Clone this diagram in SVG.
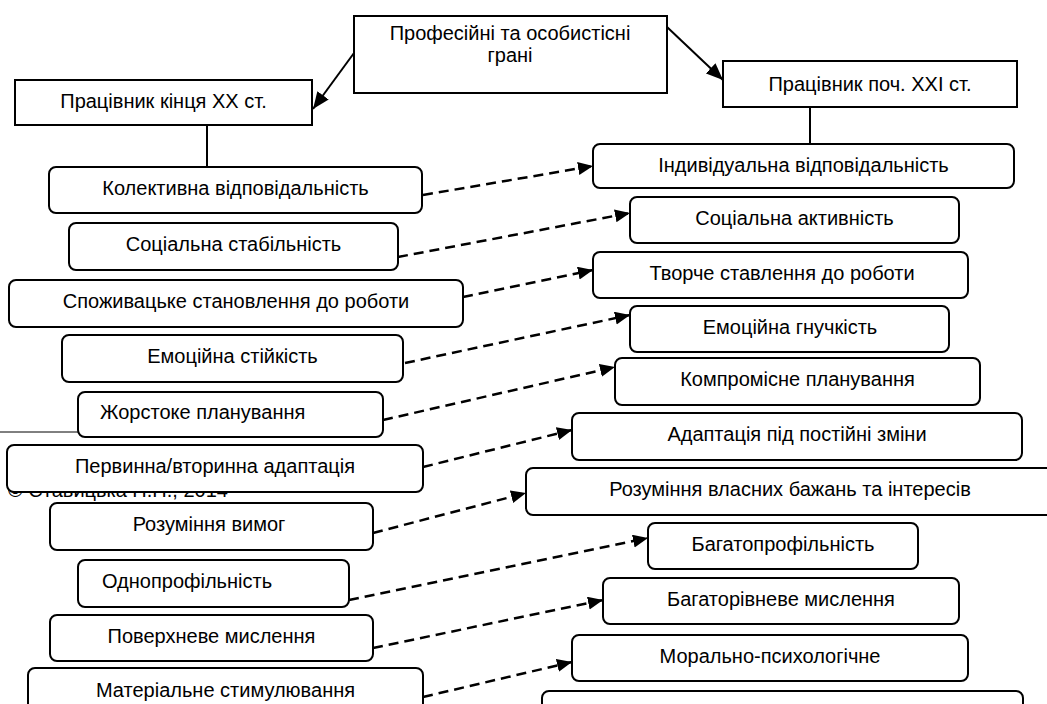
<svg xmlns="http://www.w3.org/2000/svg" width="1047" height="704" viewBox="0 0 1047 704">
<style>
.bx{fill:#fff;stroke:#000;stroke-width:2}
.t{font-family:"Liberation Sans",Arial,sans-serif;font-size:20px;fill:#000;text-anchor:middle}
.tl{font-family:"Liberation Sans",Arial,sans-serif;font-size:20px;fill:#000}
.sl{fill:none;stroke:#000;stroke-width:2}
.dl{fill:none;stroke:#000;stroke-width:2.5;stroke-dasharray:10,6}
</style>
<defs>
<marker id="ah" markerUnits="userSpaceOnUse" markerWidth="16" markerHeight="14" refX="15" refY="6.5" orient="auto">
<path d="M0,0 L15,6.5 L0,13 z" fill="#000" stroke="none"/>
</marker>
<marker id="ahs" markerUnits="userSpaceOnUse" markerWidth="18" markerHeight="15" refX="17" refY="7" orient="auto">
<path d="M0,0 L17,7 L0,14 z" fill="#000" stroke="none"/>
</marker>
</defs>
<rect width="1047" height="704" fill="#fff"/>
<text class="tl" x="8" y="497">© Ставицька Н.Н., 2014</text>
<line x1="0" y1="432" x2="80" y2="432" stroke="#000" stroke-width="1"/>
<g id="connectors">
<line class="sl" x1="354" y1="53" x2="313" y2="109" marker-end="url(#ahs)"/>
<line class="sl" x1="667" y1="27" x2="723" y2="80" marker-end="url(#ahs)"/>
<line class="sl" x1="207" y1="125" x2="207" y2="167"/>
<line class="sl" x1="810" y1="107" x2="810" y2="144"/>
<line class="dl" x1="423" y1="195" x2="593" y2="166" marker-end="url(#ah)"/>
<line class="dl" x1="398" y1="257" x2="630" y2="213" marker-end="url(#ah)"/>
<line class="dl" x1="463" y1="297" x2="593" y2="270" marker-end="url(#ah)"/>
<line class="dl" x1="405" y1="363" x2="630" y2="315" marker-end="url(#ah)"/>
<line class="dl" x1="383" y1="420" x2="615" y2="367" marker-end="url(#ah)"/>
<line class="dl" x1="423" y1="467" x2="572" y2="430" marker-end="url(#ah)"/>
<line class="dl" x1="373" y1="533" x2="526" y2="493" marker-end="url(#ah)"/>
<line class="dl" x1="349" y1="600" x2="648" y2="538" marker-end="url(#ah)"/>
<line class="dl" x1="373" y1="648" x2="603" y2="600" marker-end="url(#ah)"/>
<line class="dl" x1="423" y1="697" x2="572" y2="662" marker-end="url(#ah)"/>
</g>
<g id="n-top"><rect class="bx" x="354" y="16" width="313" height="77"/><text class="t" x="510" y="40">Професійні та особистісні</text><text class="t" x="510" y="62">грані</text></g>
<g id="n-left-head"><rect class="bx" x="15" y="80" width="297" height="45"/><text class="t" x="163.5" y="108">Працівник кінця XX ст.</text></g>
<g id="n-right-head"><rect class="bx" x="723" y="61" width="294" height="46"/><text class="t" x="870" y="91">Працівник поч. XXI ст.</text></g>
<g id="l1"><rect class="bx" x="49" y="167" width="373" height="46" rx="7"/><text class="t" x="235.5" y="195">Колективна відповідальність</text></g>
<g id="l2"><rect class="bx" x="69" y="223" width="329" height="47" rx="7"/><text class="t" x="233.5" y="251">Соціальна стабільність</text></g>
<g id="l3"><rect class="bx" x="9" y="280" width="454" height="47" rx="7"/><text class="t" x="236" y="308">Споживацьке становлення до роботи</text></g>
<g id="l4"><rect class="bx" x="62" y="335" width="341" height="47" rx="7"/><text class="t" x="232.5" y="363">Емоційна стійкість</text></g>
<g id="l5"><rect class="bx" x="78" y="392" width="305" height="45" rx="7"/><text class="tl" x="100" y="419">Жорстоке планування</text></g>
<g id="l6"><rect class="bx" x="7" y="445" width="416" height="47" rx="7"/><text class="t" x="215" y="473">Первинна/вторинна адаптація</text></g>
<g id="l7"><rect class="bx" x="50" y="503" width="323" height="47" rx="7"/><text class="t" x="209" y="531">Розуміння вимог</text></g>
<g id="l8"><rect class="bx" x="78" y="560" width="271" height="47" rx="7"/><text class="tl" x="102" y="588">Однопрофільність</text></g>
<g id="l9"><rect class="bx" x="50" y="615" width="323" height="46" rx="7"/><text class="t" x="211.5" y="643">Поверхневе мислення</text></g>
<g id="l10"><rect class="bx" x="28" y="668" width="395" height="50" rx="7"/><text class="t" x="225.5" y="697">Матеріальне стимулювання</text></g>
<g id="r1"><rect class="bx" x="593" y="144" width="421" height="44" rx="7"/><text class="t" x="803.5" y="172">Індивідуальна відповідальність</text></g>
<g id="r2"><rect class="bx" x="630" y="197" width="329" height="46" rx="7"/><text class="t" x="794.5" y="225">Соціальна активність</text></g>
<g id="r3"><rect class="bx" x="593" y="252" width="375" height="46" rx="7"/><text class="t" x="782" y="280">Творче ставлення до роботи</text></g>
<g id="r4"><rect class="bx" x="630" y="306" width="319" height="46" rx="7"/><text class="t" x="790" y="334">Емоційна гнучкість</text></g>
<g id="r5"><rect class="bx" x="615" y="358" width="365" height="47" rx="7"/><text class="t" x="797.5" y="386">Компромісне планування</text></g>
<g id="r6"><rect class="bx" x="572" y="413" width="450" height="47" rx="7"/><text class="t" x="797" y="441">Адаптація під постійні зміни</text></g>
<g id="r7"><rect class="bx" x="526" y="468" width="540" height="47" rx="7"/><text class="t" x="790" y="496">Розуміння власних бажань та інтересів</text></g>
<g id="r8"><rect class="bx" x="648" y="523" width="270" height="46" rx="7"/><text class="t" x="783" y="551">Багатопрофільність</text></g>
<g id="r9"><rect class="bx" x="603" y="578" width="356" height="46" rx="7"/><text class="t" x="781" y="606">Багаторівневе мислення</text></g>
<g id="r10"><rect class="bx" x="572" y="635" width="396" height="46" rx="7"/><text class="t" x="770" y="663">Морально-психологічне</text></g>
<g id="r11"><rect class="bx" x="542" y="691" width="481" height="40" rx="7"/></g>
</svg>
